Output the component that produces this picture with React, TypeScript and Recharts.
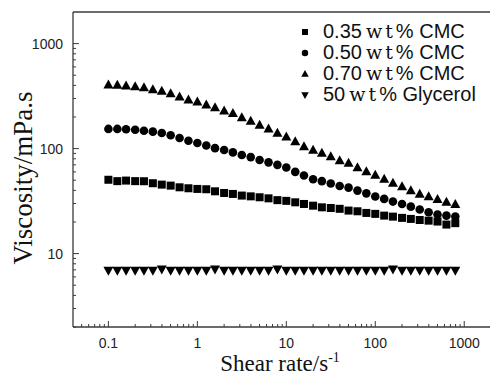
import React from 'react';
import { Legend, ReferenceLine, Scatter, ScatterChart, XAxis, YAxis } from 'recharts';

// shear rate, s^-1 (10 points per decade)
const shearRate = [
  0.1, 0.126, 0.158, 0.2, 0.251, 0.316, 0.398, 0.501, 0.631, 0.794,
  1, 1.26, 1.58, 2, 2.51, 3.16, 3.98, 5.01, 6.31, 7.94,
  10, 12.6, 15.8, 20, 25.1, 31.6, 39.8, 50.1, 63.1, 79.4,
  100, 126, 158, 200, 251, 316, 398, 501, 631, 794,
];

// viscosity, mPa.s
const cmc035 = [
  50.5, 49, 49.6, 49, 48.9, 46.8, 45.4, 44.4, 42.8, 41.9,
  41.3, 41, 39.2, 37.8, 37, 35.7, 35.1, 34.4, 33.6, 32.3,
  31.8, 30.8, 29.7, 28.6, 27.6, 27.2, 26.7, 25.7, 25.3, 24.4,
  23.9, 23, 22.5, 21.9, 21.4, 20.9, 20.6, 20.2, 18.9, 19.5,
];
const cmc050 = [
  154, 154, 153, 151, 148, 145, 141, 134, 126, 119,
  113, 107, 101, 97, 92, 87, 83, 78, 74, 70,
  66, 60, 55.5, 51, 49, 46.5, 44, 42.5, 39.8, 37.5,
  35, 33.2, 31.3, 29.7, 28, 26.3, 24.8, 23.6, 23, 22.6,
];
const cmc070 = [
  407, 405, 398, 390, 382, 366, 355, 336, 313, 292,
  280, 262, 247, 230, 217, 198, 183, 168, 155, 141,
  130, 117, 105, 97, 91, 84, 77, 73, 66, 60.5,
  56, 51.5, 47, 43.5, 40, 37, 35, 33, 31, 29.5,
];
const glycerol = [
  6.9, 6.9, 6.9, 6.9, 6.9, 6.9, 7.1, 6.9, 6.9, 6.9,
  6.9, 6.9, 7.1, 6.9, 6.9, 6.9, 6.9, 6.9, 6.9, 7.1,
  6.9, 6.9, 6.9, 6.9, 6.9, 6.9, 6.9, 6.9, 6.9, 6.9,
  6.9, 6.9, 7.1, 6.9, 6.9, 6.9, 6.9, 6.9, 6.9, 6.9,
];

const xMajor = [0.1, 1, 10, 100, 1000];
const yMajor = [10, 100, 1000];
const minorSteps = [2, 3, 4, 5, 6, 7, 8, 9];

const xTicks = [0.01, ...xMajor].flatMap((d) => [d, ...minorSteps.map((m) => m * d)]).filter((v) => v >= 0.05 && v <= 1000);
const yTicks = [1, ...yMajor].flatMap((d) => [d, ...minorSteps.map((m) => m * d)]).filter((v) => v >= 2 && v <= 1000);

const toRows = (vals: number[]) => shearRate.map((x, i) => ({ x, v: vals[i] }));

const series = [
  { key: '035', label: '0.35', name: 'CMC', kind: 'square', data: toRows(cmc035) },
  { key: '050', label: '0.50', name: 'CMC', kind: 'circle', data: toRows(cmc050) },
  { key: '070', label: '0.70', name: 'CMC', kind: 'up', data: toRows(cmc070) },
  { key: 'gly', label: '50', name: 'Glycerol', kind: 'down', data: toRows(glycerol) },
];

const ink = '#000';
const axisColor = '#3a3a3a';
const sans = '"Liberation Sans", Arial, sans-serif';
const serif = '"Liberation Serif", "Times New Roman", serif';

function marker(kind: string, cx: number, cy: number, k = 1) {
  switch (kind) {
    case 'square':
      return <rect x={cx - 4 * k} y={cy - 4 * k} width={8 * k} height={8 * k} fill={ink} />;
    case 'circle':
      return <circle cx={cx} cy={cy} r={4.3 * k} fill={ink} />;
    case 'up':
      return <path d={`M${cx},${cy - 5.2 * k}L${cx + 5 * k},${cy + 3.8 * k}L${cx - 5 * k},${cy + 3.8 * k}Z`} fill={ink} />;
    default:
      return <path d={`M${cx - 5 * k},${cy - 3.8 * k}L${cx + 5 * k},${cy - 3.8 * k}L${cx},${cy + 5.2 * k}Z`} fill={ink} />;
  }
}

const isMajor = (v: number) => Math.abs(Math.log10(v) - Math.round(Math.log10(v))) < 1e-6;

const XTick = (props: any) => {
  const { x, y, payload } = props;
  const major = isMajor(payload.value);
  return (
    <g>
      <line x1={x} x2={x} y1={y} y2={y - (major ? 6 : 3)} stroke={axisColor} strokeWidth={1} />
      {major && (
        <text x={x} y={y + 21} textAnchor="middle" fontFamily={sans} fontSize={14} fill="#222">
          {String(payload.value)}
        </text>
      )}
    </g>
  );
};

const YTick = (props: any) => {
  const { x, y, payload } = props;
  const major = isMajor(payload.value);
  return (
    <g>
      <line x1={x} x2={x + (major ? 6 : 3)} y1={y} y2={y} stroke={axisColor} strokeWidth={1} />
      {major && (
        <text x={x - 10} y={y} dy="0.35em" textAnchor="end" fontFamily={sans} fontSize={14} fill="#222">
          {String(payload.value)}
        </text>
      )}
    </g>
  );
};

const LegendBox = () => (
  <div style={{ fontFamily: sans, fontSize: 20, color: '#111' }}>
    {series.map((s) => (
      <div key={s.key} style={{ display: 'flex', alignItems: 'center', height: 21, whiteSpace: 'nowrap' }}>
        <svg width={14} height={14} style={{ display: 'block' }}>
          {marker(s.kind, 7, 7, 0.75)}
        </svg>
        <span style={{ marginLeft: 11 }}>
          {s.label}
          <span style={{ fontFamily: '"DejaVu Serif", serif', fontSize: 19, letterSpacing: 3, marginLeft: 4 }}>wt</span>% {s.name}
        </span>
      </div>
    ))}
  </div>
);

export default function App() {
  return (
    <div style={{ position: 'absolute', left: 0, top: 0, width: 490, height: 375, overflow: 'hidden', background: '#fff' }}>
      <ScatterChart width={491} height={375} margin={{ top: 12, right: 0, bottom: 18, left: 13 }}>
        <XAxis
          type="number"
          dataKey="x"
          scale="log"
          domain={[0.04, 2000]}
          allowDataOverflow
          ticks={xTicks}
          interval={0}
          tickSize={0}
          tickMargin={0}
          tickLine={false}
          height={30}
          axisLine={{ stroke: axisColor, strokeWidth: 1.3 }}
          tick={<XTick />}
          label={{
            content: () => (
              <text x={280} y={371} textAnchor="middle" fontFamily={serif} fontSize={23} fill="#111">
                Shear rate/s
                <tspan dy={-9} fontSize={14}>
                  -1
                </tspan>
              </text>
            ),
          }}
        />
        <YAxis
          type="number"
          dataKey="v"
          scale="log"
          domain={[2, 2000]}
          allowDataOverflow
          ticks={yTicks}
          interval={0}
          tickSize={0}
          tickMargin={0}
          tickLine={false}
          width={60}
          axisLine={{ stroke: axisColor, strokeWidth: 1.3 }}
          tick={<YTick />}
          label={{
            content: () => (
              <text
                x={32}
                y={178}
                transform="rotate(-90 32 178)"
                textAnchor="middle"
                fontFamily={serif}
                fontSize={27}
                fill="#111"
              >
                Viscosity/mPa.s
              </text>
            ),
          }}
        />
        <ReferenceLine y={2000} stroke={axisColor} strokeWidth={1.3} />
        <ReferenceLine x={2000} stroke={axisColor} strokeWidth={1.3} />
        {series.map((s) => (
          <Scatter
            key={s.key}
            name={s.key}
            data={s.data}
            isAnimationActive={false}
            shape={(p: any) => marker(s.kind, p.cx, p.cy)}
          />
        ))}
        <Legend
          layout="vertical"
          align="center"
          verticalAlign="middle"
          wrapperStyle={{ top: 21, left: 298, width: 192 }}
          content={() => <LegendBox />}
        />
      </ScatterChart>
    </div>
  );
}
